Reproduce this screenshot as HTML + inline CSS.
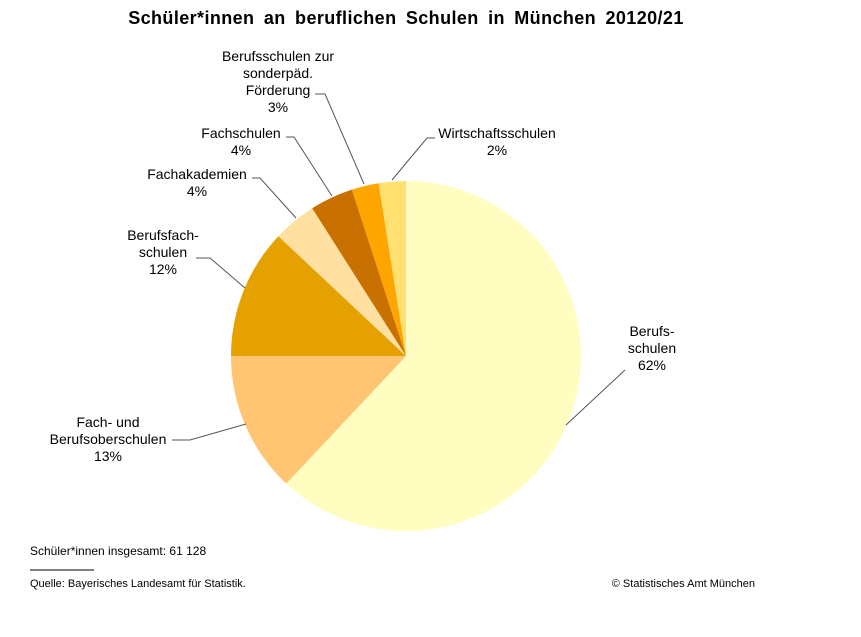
<!DOCTYPE html>
<html><head><meta charset="utf-8"><style>
body{margin:0;background:#fff}
svg text{font-family:"Liberation Sans",sans-serif;font-size:14px;fill:#000}
</style></head><body>
<svg width="861" height="632" viewBox="0 0 861 632" xmlns="http://www.w3.org/2000/svg">
<text x="406" y="24" text-anchor="middle" style="font-size:18px;font-weight:bold;word-spacing:4px;letter-spacing:0.4px">Schüler*innen an beruflichen Schulen in München 20120/21</text>
<g stroke="none">
<path d="M406,356 L406,181 A175,175 0 1,1 286.2,483.6 Z" fill="#FFFDC0"/>
<path d="M406,356 L286.2,483.6 A175,175 0 0,1 231,356 Z" fill="#FFC573"/>
<path d="M406,356 L231,356 A175,175 0 0,1 278.4,236.2 Z" fill="#E5A100"/>
<path d="M406,356 L278.4,236.2 A175,175 0 0,1 312.2,208.2 Z" fill="#FFE0A0"/>
<path d="M406,356 L312.2,208.2 A175,175 0 0,1 351.9,189.6 Z" fill="#C87000"/>
<path d="M406,356 L351.9,189.6 A175,175 0 0,1 378.6,183.2 Z" fill="#FFA500"/>
<path d="M406,356 L378.6,183.2 A175,175 0 0,1 406,181 Z" fill="#FFE070"/>
</g>
<g stroke="#555" fill="none" stroke-width="1">
<polyline points="566,425 625,370"/>
<polyline points="246,424 190,440 172,440"/>
<polyline points="245,288 210,258 196,258"/>
<polyline points="296,218 260,178 252,178"/>
<polyline points="332,196 294,137 286,137"/>
<polyline points="364,184 325,94 315,94"/>
<polyline points="392,180 427,138 435,138"/>
</g>
<text x="652" y="336" text-anchor="middle">Berufs-</text>
<text x="652" y="353" text-anchor="middle">schulen</text>
<text x="652" y="370" text-anchor="middle">62%</text>
<text x="108" y="427" text-anchor="middle">Fach- und</text>
<text x="108" y="444" text-anchor="middle">Berufsoberschulen</text>
<text x="108" y="461" text-anchor="middle">13%</text>
<text x="163" y="240" text-anchor="middle">Berufsfach-</text>
<text x="163" y="257" text-anchor="middle">schulen</text>
<text x="163" y="274" text-anchor="middle">12%</text>
<text x="197" y="179" text-anchor="middle">Fachakademien</text>
<text x="197" y="196" text-anchor="middle">4%</text>
<text x="241" y="138" text-anchor="middle">Fachschulen</text>
<text x="241" y="155" text-anchor="middle">4%</text>
<text x="278" y="61" text-anchor="middle">Berufsschulen zur</text>
<text x="278" y="78" text-anchor="middle">sonderpäd.</text>
<text x="278" y="95" text-anchor="middle">Förderung</text>
<text x="278" y="112" text-anchor="middle">3%</text>
<text x="497" y="138" text-anchor="middle">Wirtschaftsschulen</text>
<text x="497" y="155" text-anchor="middle">2%</text>
<text x="30" y="555" style="font-size:12px">Schüler*innen  insgesamt: 61 128</text>
<line x1="30" y1="570" x2="94" y2="570" stroke="#000"/>
<text x="30" y="587" style="font-size:11px">Quelle: Bayerisches Landesamt für Statistik.</text>
<text x="755" y="587" text-anchor="end" style="font-size:11px">© Statistisches Amt München</text>
</svg>
</body></html>
